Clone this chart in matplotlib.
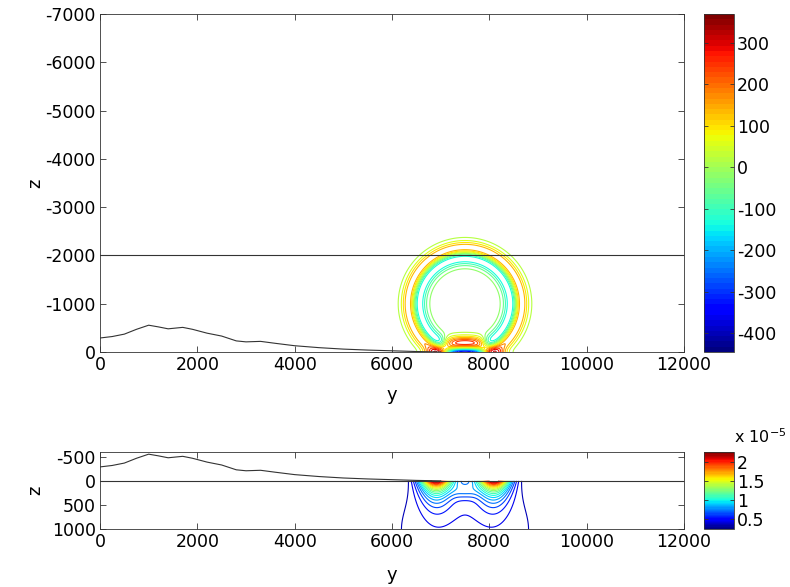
import numpy as np
import matplotlib
matplotlib.use("Agg")
import matplotlib.pyplot as plt
from matplotlib.colors import Normalize
from matplotlib.cm import ScalarMappable

plt.rcParams['font.family'] = ['DejaVu Sans']
plt.rcParams['axes.unicode_minus'] = False

# ---------------- data ----------------
# terrain profile (y, z) -- z negative upward
terrain_y = [0, 250, 500, 750, 1000, 1200, 1400, 1700, 1900, 2200, 2500, 2800,
             3000, 3300, 3600, 4000, 4500, 5000, 5500, 6000, 6500, 7000]
terrain_z = [-290, -320, -370, -470, -555, -520, -480, -510, -470, -390, -330, -230,
             -210, -220, -180, -130, -90, -60, -40, -25, -10, 0]

# reference lines
top_line_z = -2000
bottom_line_z = 0

# top field: ring-shaped pulse + ground reflection
ring_center_y = 7500
ring_center_z = -1000
ring_radius = 1050
ring_width = 120
ring_amp = 280
ground_amp = -230
dome_amp = 200
dome_z = -170
top_clim = (-446, 370)
top_cbar_ticks = [-400, -300, -200, -100, 0, 100, 200, 300]

# bottom field (units of 1e-5)
lobe_y = [6900, 8100]
lobe_amp = [2.0, 2.0]
lobe_sigma = 230
lobe_depth = 250
mid_y, mid_z, mid_amp = 7500, 200, 0.25
broad_amp = 0.48
bot_clim = (0.23, 2.27)
bot_cbar_ticks = [0.5, 1, 1.5, 2]
bot_cbar_labels = ['0.5', '1', '1.5', '2']

x_ticks = [0, 2000, 4000, 6000, 8000, 10000, 12000]
top_yticks = [0, -1000, -2000, -3000, -4000, -5000, -6000, -7000]
bot_yticks = [-500, 0, 500, 1000]

# ---------------- fields ----------------
def ring(Y, Z, cz):
    r = np.hypot(Y - ring_center_y, Z - cz)
    d = (r - ring_radius) / ring_width
    return ring_amp * d * np.exp(-0.5 * d ** 2)

yt = np.linspace(5000, 10000, 900)
zt = np.linspace(-3000, 0, 600)
YT, ZT = np.meshgrid(yt, zt)
F_top = ring(YT, ZT, ring_center_z) + ring(YT, ZT, -ring_center_z)
F_top += ground_amp * np.exp(-((YT - ring_center_y) / 420) ** 4) * np.exp(-(ZT / 70) ** 2)
F_top += dome_amp * np.exp(-((YT - 7490) / 430) ** 6) * np.exp(-((ZT - dome_z) / 140) ** 2)

yb = np.linspace(5000, 10000, 900)
zb = np.linspace(0, 1000, 300)
YB, ZB = np.meshgrid(yb, zb)
F_bot = np.zeros_like(YB)
for y0, a in zip(lobe_y, lobe_amp):
    F_bot += a * np.exp(-(YB - y0) ** 2 / (2 * lobe_sigma ** 2)) * np.exp(-ZB / lobe_depth)
F_bot += mid_amp * np.exp(-0.5 * ((YB - mid_y) / 200) ** 2 - 0.5 * ((ZB - mid_z) / 120) ** 2)
s = 950 + 1.2 * ZB
F_bot += broad_amp * np.exp(-(YB - 7500) ** 2 / (2 * s ** 2)) * np.exp(-ZB / 5000)

cmap = plt.get_cmap('jet', 64)

# ---------------- figure ----------------
W, H = 790, 587
fig = plt.figure(figsize=(W / 100, H / 100), dpi=100)

def rect(l, t, r, b):
    return [l / W, 1 - b / H, (r - l) / W, (b - t) / H]

ax1 = fig.add_axes(rect(100, 14, 684, 352))
cax1 = fig.add_axes(rect(704, 14, 734, 352))
ax2 = fig.add_axes(rect(100, 452, 684, 529))
cax2 = fig.add_axes(rect(704, 452, 734, 529))

# top
norm1 = Normalize(*top_clim)
lv1 = np.linspace(top_clim[0], top_clim[1], 22)[1:-1]
ax1.contour(YT, ZT, F_top, levels=lv1, cmap=cmap, norm=norm1, linewidths=0.8)
ax1.plot(terrain_y, terrain_z, color='#333333', lw=0.8)
ax1.axhline(top_line_z, color='#333333', lw=0.8)
ax1.set_xlim(0, 12000)
ax1.set_ylim(0, -7000)
ax1.set_xticks(x_ticks)
ax1.set_yticks(top_yticks)
ax1.set_xlabel('y')
ax1.set_ylabel('z')

cb1 = fig.colorbar(ScalarMappable(norm=norm1, cmap=cmap), cax=cax1, ticks=top_cbar_ticks)

# bottom
norm2 = Normalize(*bot_clim)
lv2 = np.linspace(bot_clim[0], bot_clim[1], 22)[1:-1]
ax2.contour(YB, ZB, F_bot, levels=lv2, cmap=cmap, norm=norm2, linewidths=0.8)
ax2.plot(terrain_y, terrain_z, color='#333333', lw=0.8)
ax2.axhline(bottom_line_z, color='#333333', lw=0.8)
ax2.set_xlim(0, 12000)
ax2.set_ylim(1000, -600)
ax2.set_xticks(x_ticks)
ax2.set_yticks(bot_yticks)
ax2.set_xlabel('y')
ax2.set_ylabel('z')

cb2 = fig.colorbar(ScalarMappable(norm=norm2, cmap=cmap), cax=cax2, ticks=bot_cbar_ticks)
cb2.ax.set_yticklabels(bot_cbar_labels)
cax2.text(1.0, 1.08, r'x 10$^{-5}$', transform=cax2.transAxes, fontsize=11.5,
          ha='left', va='bottom')

for ax in (ax1, ax2, cax1, cax2):
    ax.tick_params(labelsize=12.5, direction='in', length=4, width=0.6, color='#333333')
    for sp in ax.spines.values():
        sp.set_linewidth(0.6)
        sp.set_color('#333333')
for ax in (ax1, ax2):
    ax.tick_params(top=True, right=True, pad=3)
    ax.xaxis.label.set_fontsize(13)
    ax.yaxis.label.set_fontsize(13)
    ax.xaxis.label.set_va('center')
    ax.yaxis.label.set_va('center')
for cax in (cax1, cax2):
    cax.tick_params(left=True, right=True, length=3, pad=2)

ax1.yaxis.set_label_coords(-65 / 584, 0.5)
ax1.xaxis.set_label_coords(0.5, -43 / 338)
ax2.yaxis.set_label_coords(-65 / 584, 0.5)
ax2.xaxis.set_label_coords(0.5, -46 / 77)

fig.savefig('out.png', dpi=100)
